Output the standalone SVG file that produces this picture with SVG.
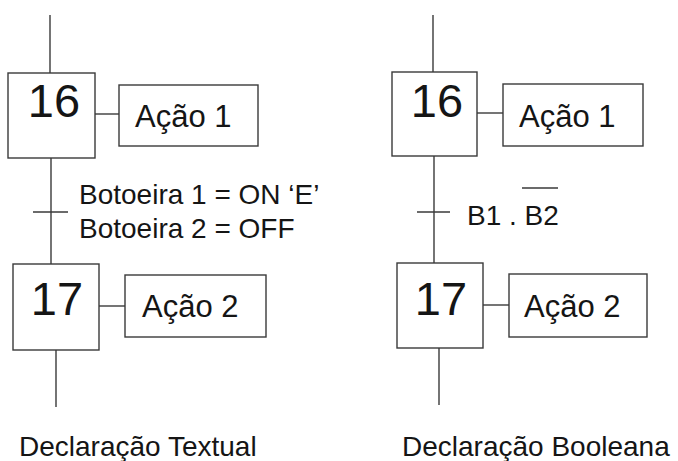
<svg xmlns="http://www.w3.org/2000/svg" width="678" height="461" viewBox="0 0 678 461">
  <style>
    .box { fill: #ffffff; stroke: #3a3a3a; stroke-width: 1.4; }
    .wire { fill: none; stroke: #3a3a3a; stroke-width: 1.4; }
    .num { font-family: "Liberation Sans", Arial, sans-serif; font-size: 47px; fill: #151515; text-anchor: middle; }
    .act { font-family: "Liberation Sans", Arial, sans-serif; font-size: 31px; fill: #151515; }
    .cond { font-family: "Liberation Sans", Arial, sans-serif; font-size: 28px; fill: #151515; }
    .cap { font-family: "Liberation Sans", Arial, sans-serif; font-size: 28px; fill: #151515; }
  </style>
  <rect width="678" height="461" fill="#ffffff"/>

  <!-- links between steps, actions and transitions -->
  <g id="connectors">
    <!-- textual chart -->
    <line class="wire" x1="50" y1="15" x2="50" y2="73"/>
    <line class="wire" x1="51" y1="158" x2="51" y2="264"/>
    <line class="wire" x1="33" y1="212" x2="68" y2="212"/>
    <line class="wire" x1="95" y1="114" x2="119" y2="114"/>
    <line class="wire" x1="99" y1="306" x2="125" y2="306"/>
    <line class="wire" x1="56" y1="350" x2="56" y2="407"/>
    <!-- boolean chart -->
    <line class="wire" x1="433" y1="15" x2="433" y2="72"/>
    <line class="wire" x1="434" y1="156" x2="434" y2="263"/>
    <line class="wire" x1="417" y1="212" x2="450" y2="212"/>
    <line class="wire" x1="477" y1="113" x2="503" y2="113"/>
    <line class="wire" x1="483" y1="305" x2="509" y2="305"/>
    <line class="wire" x1="439" y1="348" x2="439" y2="405"/>
  </g>

  <!-- textual declaration -->
  <g id="step16-left">
    <rect class="box" x="8" y="73" width="87" height="85"/>
    <text class="num" x="54" y="117">16</text>
  </g>
  <g id="action1-left">
    <rect class="box" x="119" y="85" width="139" height="61"/>
    <text class="act" x="135" y="127">Ação 1</text>
  </g>
  <g id="transition-left">
    <text class="cond" x="79" y="204">Botoeira 1 = ON ‘E’</text>
    <text class="cond" x="79" y="238">Botoeira 2 = OFF</text>
  </g>
  <g id="step17-left">
    <rect class="box" x="13" y="264" width="86" height="86"/>
    <text class="num" x="57" y="315">17</text>
  </g>
  <g id="action2-left">
    <rect class="box" x="125" y="275" width="141" height="62"/>
    <text class="act" x="142" y="317">Ação 2</text>
  </g>
  <g id="caption-left">
    <text class="cap" x="19" y="456">Declaração Textual</text>
  </g>

  <!-- boolean declaration -->
  <g id="step16-right">
    <rect class="box" x="392" y="72" width="85" height="84"/>
    <text class="num" x="437" y="117">16</text>
  </g>
  <g id="action1-right">
    <rect class="box" x="503" y="84" width="140" height="62"/>
    <text class="act" x="519" y="127">Ação 1</text>
  </g>
  <g id="transition-right">
    <text class="cond" x="467" y="225">B1 . B2</text>
    <line class="wire" x1="522" y1="188" x2="558" y2="188"/>
  </g>
  <g id="step17-right">
    <rect class="box" x="397" y="263" width="86" height="85"/>
    <text class="num" x="441" y="315">17</text>
  </g>
  <g id="action2-right">
    <rect class="box" x="509" y="274" width="138" height="63"/>
    <text class="act" x="524" y="317">Ação 2</text>
  </g>
  <g id="caption-right">
    <text class="cap" x="402" y="456">Declaração Booleana</text>
  </g>
</svg>
